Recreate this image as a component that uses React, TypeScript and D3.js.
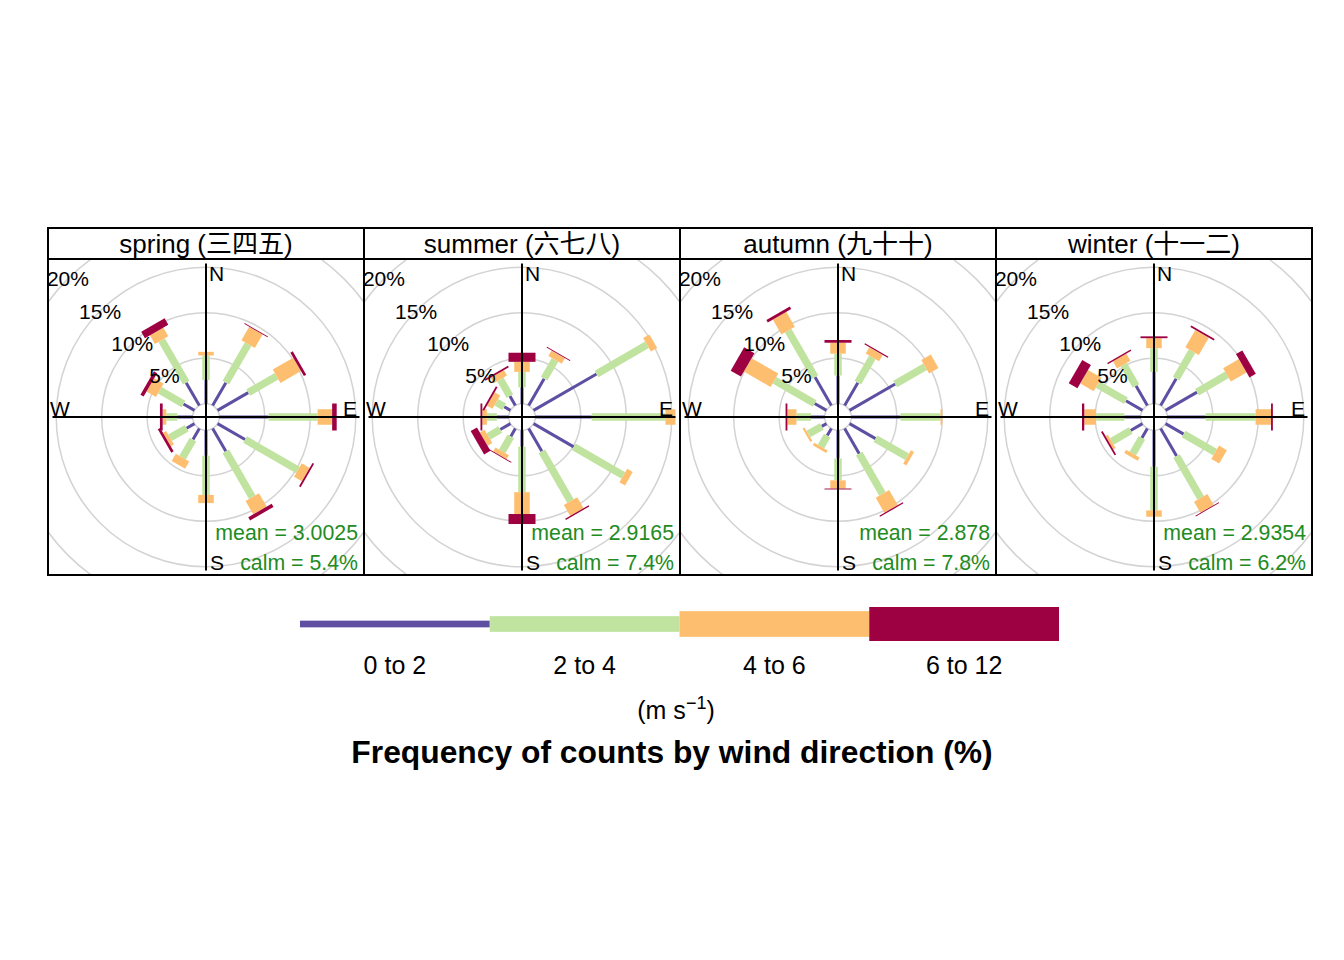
import { useEffect, useRef } from 'react';
import * as d3 from 'd3';

const SEASONS = ['spring (三四五)', 'summer (六七八)', 'autumn (九十十)', 'winter (十一二)'];
const MEANS = ['mean = 3.0025', 'mean = 2.9165', 'mean = 2.878', 'mean = 2.9354'];
const CALMS = ['calm = 5.4%', 'calm = 7.4%', 'calm = 7.8%', 'calm = 6.2%'];
const DIRECTIONS = [0, 30, 60, 90, 120, 150, 180, 210, 240, 270, 300, 330];
const SPEED_BINS = ['0 to 2', '2 to 4', '4 to 6', '6 to 12'];
const BIN_COLORS = ['#5E4FA2', '#C1E3A0', '#FDBF6F', '#9E0142'];
const RING_TICKS = [0, 5, 10, 15, 20];

// frequency (%) by direction, one array per speed bin
const spring0to2 = [2.6, 2.9, 3.9, 5.4, 3.5, 2.9, 2.8, 1.4, 1.0, 1.7, 1.4, 2.9];
const spring2to4 = [2.7, 4.9, 3.6, 5.4, 6.7, 5.8, 4.3, 2.3, 2.1, 1.2, 3.0, 5.4];
const spring4to6 = [0.4, 1.7, 2.6, 1.6, 1.0, 1.7, 0.9, 0.9, 0.4, 0.4, 1.2, 1.1];
const spring6to12 = [0, 0.1, 0.3, 0.5, 0.2, 0.4, 0, 0, 0.3, 0.3, 0.4, 0.8];

const summer0to2 = [1.8, 3.4, 8.0, 6.2, 5.1, 2.9, 1.8, 1.0, 1.3, 1.3, 0.8, 1.2];
const summer2to4 = [1.7, 2.4, 6.4, 8.1, 6.3, 6.3, 5.0, 1.9, 1.5, 1.1, 1.0, 2.1];
const summer4to6 = [1.1, 0.7, 0.8, 1.1, 0.7, 1.4, 2.4, 0.5, 0.6, 0.5, 0.7, 0.7];
const summer6to12 = [1.0, 0.1, 0, 0, 0, 0.15, 1.1, 0.1, 0.8, 0.2, 0.2, 0.2];

const autumn0to2 = [3.1, 2.9, 5.8, 5.4, 3.3, 3.2, 3.1, 0.9, 0.6, 1.5, 1.5, 3.6];
const autumn2to4 = [2.4, 3.2, 3.8, 4.4, 4.0, 5.1, 2.4, 1.4, 1.7, 1.6, 5.1, 5.9];
const autumn4to6 = [1.2, 0.8, 1.2, 0.2, 0.4, 1.9, 0.9, 0.3, 0.25, 1.0, 3.4, 1.9];
const autumn6to12 = [0.3, 0.15, 0, 0, 0, 0.15, 0.1, 0, 0, 0.2, 1.3, 0.3];

const winter0to2 = [3.5, 3.4, 4.0, 4.2, 2.3, 3.5, 4.0, 1.2, 1.5, 1.8, 2.1, 2.5];
const winter2to4 = [2.6, 3.5, 3.8, 5.5, 4.0, 5.3, 4.8, 2.0, 2.4, 3.1, 3.6, 2.7];
const winter4to6 = [1.1, 2.2, 2.0, 1.7, 1.0, 1.4, 0.7, 0.4, 0.3, 1.3, 1.7, 0.9];
const winter6to12 = [0.2, 0.2, 0.8, 0.2, 0, 0.1, 0, 0, 0.2, 0.25, 1.1, 0.15];

const SEASON_DATA = [
  [spring0to2, spring2to4, spring4to6, spring6to12],
  [summer0to2, summer2to4, summer4to6, summer6to12],
  [autumn0to2, autumn2to4, autumn4to6, autumn6to12],
  [winter0to2, winter2to4, winter4to6, winter6to12],
];

const FONT = "'Liberation Sans', Arial, 'Noto Sans CJK SC', sans-serif";

export default function App() {
  const svgRef = useRef<SVGSVGElement>(null);

  useEffect(() => {
    if (!svgRef.current) return;
    const svg = d3.select(svgRef.current);
    svg.selectAll('*').remove();

    const left = 48;
    const top = 228;
    const stripH = 31;
    const panelW = 316;
    const barW = [3, 7.5, 15.5, 27];
    const axisLen = 153.5;

    const r = d3.scaleLinear().domain([0, 20]).range([13.3, 195.3]);
    const defs = svg.append('defs');

    SEASONS.forEach((season, i) => {
      const x0 = left + i * panelW;
      const y0 = top + stripH;
      const cx = x0 + panelW / 2;
      const cy = y0 + panelW / 2;

      defs
        .append('clipPath')
        .attr('id', `clip${i}`)
        .append('rect')
        .attr('x', x0)
        .attr('y', y0)
        .attr('width', panelW)
        .attr('height', panelW);

      const g = svg.append('g').attr('clip-path', `url(#clip${i})`);

      // Rings
      g.append('g')
        .selectAll('circle')
        .data(RING_TICKS)
        .join('circle')
        .attr('cx', cx)
        .attr('cy', cy)
        .attr('r', (d) => r(d))
        .attr('fill', 'none')
        .attr('stroke', '#d3d3d3')
        .attr('stroke-width', 1.5);

      // Paddles
      const bins = SEASON_DATA[i];
      DIRECTIONS.forEach((dir, j) => {
        const spoke = g.append('g').attr('transform', `translate(${cx},${cy}) rotate(${dir})`);
        let cum = 0;
        bins.forEach((bin, k) => {
          const v = bin[j];
          if (v <= 0) return;
          const r0 = r(cum);
          const r1 = r(cum + v);
          spoke
            .append('rect')
            .attr('x', -barW[k] / 2)
            .attr('y', -r1)
            .attr('width', barW[k])
            .attr('height', r1 - r0)
            .attr('fill', BIN_COLORS[k]);
          cum += v;
        });
      });

      // Axis cross
      g.append('line')
        .attr('x1', cx - axisLen)
        .attr('x2', cx + axisLen)
        .attr('y1', cy)
        .attr('y2', cy)
        .attr('stroke', '#000')
        .attr('stroke-width', 2);
      g.append('line')
        .attr('x1', cx)
        .attr('x2', cx)
        .attr('y1', cy - axisLen)
        .attr('y2', cy + axisLen)
        .attr('stroke', '#000')
        .attr('stroke-width', 2);

      // Ring labels
      g.append('g')
        .selectAll('text')
        .data(RING_TICKS.filter((d) => d > 0))
        .join('text')
        .attr('x', (d) => cx - r(d) * Math.SQRT1_2)
        .attr('y', (d) => cy - r(d) * Math.SQRT1_2)
        .attr('text-anchor', 'middle')
        .attr('dominant-baseline', 'central')
        .attr('font-family', FONT)
        .attr('font-size', 21)
        .attr('fill', '#000')
        .text((d) => `${d}%`);

      // Compass letters
      const compass = [
        { t: 'N', x: cx + 3, y: cy - 136, anchor: 'start' },
        { t: 'E', x: cx + 151, y: cy - 1, anchor: 'end' },
        { t: 'S', x: cx + 4, y: cy + 153, anchor: 'start' },
        { t: 'W', x: cx - 156, y: cy - 1, anchor: 'start' },
      ];
      compass.forEach((c) => {
        g.append('text')
          .attr('x', c.x)
          .attr('y', c.y)
          .attr('text-anchor', c.anchor)
          .attr('font-family', FONT)
          .attr('font-size', 21)
          .attr('fill', '#000')
          .text(c.t);
      });

      // mean / calm
      g.append('text')
        .attr('x', x0 + panelW - 6)
        .attr('y', cy + 123)
        .attr('text-anchor', 'end')
        .attr('font-family', FONT)
        .attr('font-size', 21.3)
        .attr('fill', '#228B22')
        .text(MEANS[i]);
      g.append('text')
        .attr('x', x0 + panelW - 6)
        .attr('y', cy + 153)
        .attr('text-anchor', 'end')
        .attr('font-family', FONT)
        .attr('font-size', 21.3)
        .attr('fill', '#228B22')
        .text(CALMS[i]);

      // Strip
      svg
        .append('text')
        .attr('x', cx)
        .attr('y', top + 25)
        .attr('text-anchor', 'middle')
        .attr('font-family', FONT)
        .attr('font-size', 26)
        .attr('fill', '#000')
        .text(season);
    });

    // Frame
    const frame = svg.append('g').attr('stroke', '#000').attr('stroke-width', 2).attr('fill', 'none');
    frame
      .append('rect')
      .attr('x', left)
      .attr('y', top)
      .attr('width', panelW * 4)
      .attr('height', stripH + panelW);
    frame
      .append('line')
      .attr('x1', left)
      .attr('x2', left + panelW * 4)
      .attr('y1', top + stripH)
      .attr('y2', top + stripH);
    [1, 2, 3].forEach((k) => {
      frame
        .append('line')
        .attr('x1', left + k * panelW)
        .attr('x2', left + k * panelW)
        .attr('y1', top)
        .attr('y2', top + stripH + panelW);
    });

    // Legend
    const legendX = d3.scaleBand<string>().domain(SPEED_BINS).range([300, 1059]);
    const legendH = [6.7, 15.7, 25.7, 34];
    const legendY = 624;
    const lg = svg.append('g');
    lg.selectAll('rect')
      .data(SPEED_BINS)
      .join('rect')
      .attr('x', (d) => legendX(d)!)
      .attr('y', (_d, k) => legendY - legendH[k] / 2)
      .attr('width', legendX.bandwidth())
      .attr('height', (_d, k) => legendH[k])
      .attr('fill', (_d, k) => BIN_COLORS[k]);
    lg.selectAll('text')
      .data(SPEED_BINS)
      .join('text')
      .attr('x', (d) => legendX(d)! + legendX.bandwidth() / 2)
      .attr('y', 674)
      .attr('text-anchor', 'middle')
      .attr('font-family', FONT)
      .attr('font-size', 25)
      .attr('fill', '#000')
      .text((d) => d);

    const unit = svg
      .append('text')
      .attr('x', 676)
      .attr('y', 719)
      .attr('text-anchor', 'middle')
      .attr('font-family', FONT)
      .attr('font-size', 25)
      .attr('fill', '#000');
    unit.append('tspan').text('(m s');
    unit.append('tspan').attr('dy', -10).attr('font-size', 18).text('−1');
    unit.append('tspan').attr('dy', 10).text(')');

    svg
      .append('text')
      .attr('x', 672)
      .attr('y', 763)
      .attr('text-anchor', 'middle')
      .attr('font-family', FONT)
      .attr('font-size', 31.8)
      .attr('font-weight', 'bold')
      .attr('fill', '#000')
      .text('Frequency of counts by wind direction (%)');
  }, []);

  return (
    <svg
      ref={svgRef}
      width={1344}
      height={960}
      style={{ position: 'absolute', left: 0, top: 0, background: '#fff' }}
    />
  );
}
